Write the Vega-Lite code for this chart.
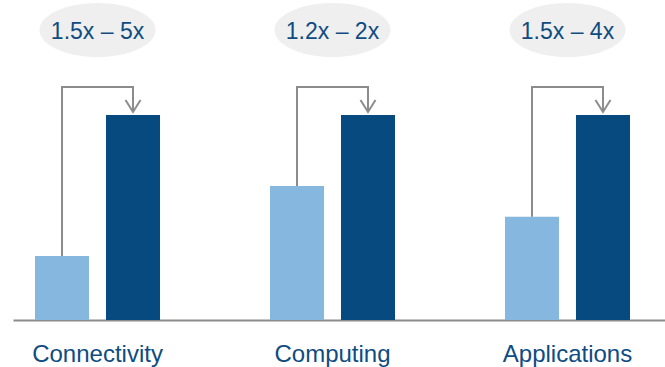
{
  "$schema": "https://vega.github.io/schema/vega-lite/v6.json",
  "width": 652,
  "height": 320,
  "autosize": {"type": "none"},
  "padding": {"left": 13, "top": 0, "right": 0, "bottom": 47},
  "background": "white",
  "config": {"view": {"stroke": null}},
  "datasets": {
    "bars": [
      {"group": "Connectivity", "series": "before", "value": 31.2},
      {"group": "Connectivity", "series": "after", "value": 100},
      {"group": "Computing", "series": "before", "value": 65.4},
      {"group": "Computing", "series": "after", "value": 100},
      {"group": "Applications", "series": "before", "value": 50.4},
      {"group": "Applications", "series": "after", "value": 100}
    ],
    "connectors": [
      {"group": "Connectivity", "k": 1, "series": "before", "value": 31.2},
      {"group": "Connectivity", "k": 2, "series": "before", "value": 113.7},
      {"group": "Connectivity", "k": 3, "series": "after", "value": 113.7},
      {"group": "Connectivity", "k": 4, "series": "after", "value": 101.5},
      {"group": "Computing", "k": 1, "series": "before", "value": 65.4},
      {"group": "Computing", "k": 2, "series": "before", "value": 113.7},
      {"group": "Computing", "k": 3, "series": "after", "value": 113.7},
      {"group": "Computing", "k": 4, "series": "after", "value": 101.5},
      {"group": "Applications", "k": 1, "series": "before", "value": 50.4},
      {"group": "Applications", "k": 2, "series": "before", "value": 113.7},
      {"group": "Applications", "k": 3, "series": "after", "value": 113.7},
      {"group": "Applications", "k": 4, "series": "after", "value": 101.5}
    ],
    "arrows": [
      {"group": "Connectivity", "series": "after", "value": 101.5},
      {"group": "Computing", "series": "after", "value": 101.5},
      {"group": "Applications", "series": "after", "value": 101.5}
    ],
    "labels": [
      {"group": "Connectivity", "range": "1.5x – 5x"},
      {"group": "Computing", "range": "1.2x – 2x"},
      {"group": "Applications", "range": "1.5x – 4x"}
    ]
  },
  "encoding": {
    "x": {
      "field": "group",
      "type": "nominal",
      "sort": ["Connectivity", "Computing", "Applications"],
      "scale": {"paddingInner": 0.468, "paddingOuter": 0.1213, "align": 0.386},
      "axis": {
        "title": null,
        "domainColor": "#8c8c8c",
        "domainWidth": 2,
        "ticks": false,
        "tickSize": 0,
        "labelFontSize": 24,
        "labelFont": "Liberation Sans",
        "labelColor": "#0f4c81",
        "labelBaseline": "alphabetic",
        "labelPadding": 41,
        "labelAngle": 0
      }
    }
  },
  "layer": [
    {
      "data": {"name": "labels"},
      "mark": {"type": "point", "shape": "M-1,0C-1,-0.2574,-0.5523,-0.466,0,-0.466C0.5523,-0.466,1,-0.2574,1,0C1,0.2574,0.5523,0.466,0,0.466C-0.5523,0.466,-1,0.2574,-1,0Z", "filled": true, "fill": "#efefef", "strokeWidth": 0, "size": 13456, "opacity": 1},
      "encoding": {
        "y": {"datum": 141.5, "type": "quantitative", "scale": {"domain": [0, 156.1], "nice": false, "zero": true}, "axis": null}
      }
    },
    {
      "data": {"name": "labels"},
      "mark": {"type": "text", "font": "Liberation Sans", "fontSize": 23, "color": "#0f4c81", "baseline": "alphabetic", "align": "center"},
      "encoding": {
        "y": {"datum": 137.1, "type": "quantitative", "scale": {"domain": [0, 156.1], "nice": false, "zero": true}, "axis": null},
        "text": {"field": "range"}
      }
    },
    {
      "data": {"name": "bars"},
      "mark": {"type": "bar"},
      "encoding": {
        "y": {"field": "value", "type": "quantitative", "scale": {"domain": [0, 156.1], "nice": false, "zero": true}, "axis": null},
        "xOffset": {"field": "series", "type": "nominal", "sort": ["before", "after"], "scale": {"paddingInner": 0.239, "paddingOuter": 0}},
        "color": {"field": "series", "type": "nominal", "scale": {"domain": ["before", "after"], "range": ["#85b7df", "#064a7f"]}, "legend": null}
      }
    },
    {
      "data": {"name": "connectors"},
      "mark": {"type": "line", "color": "#8c8c8c", "strokeWidth": 2, "strokeJoin": "miter"},
      "encoding": {
        "y": {"field": "value", "type": "quantitative", "scale": {"domain": [0, 156.1], "nice": false, "zero": true}, "axis": null},
        "xOffset": {"field": "series", "type": "nominal", "sort": ["before", "after"]},
        "detail": {"field": "group"},
        "order": {"field": "k", "type": "quantitative"}
      }
    },
    {
      "data": {"name": "arrows"},
      "mark": {"type": "point", "shape": "M-1,-1.6L0,0L1,-1.6", "filled": false, "stroke": "#8c8c8c", "strokeWidth": 2, "size": 225, "opacity": 1},
      "encoding": {
        "y": {"field": "value", "type": "quantitative", "scale": {"domain": [0, 156.1], "nice": false, "zero": true}, "axis": null},
        "xOffset": {"field": "series", "type": "nominal", "sort": ["before", "after"]}
      }
    }
  ]
}
